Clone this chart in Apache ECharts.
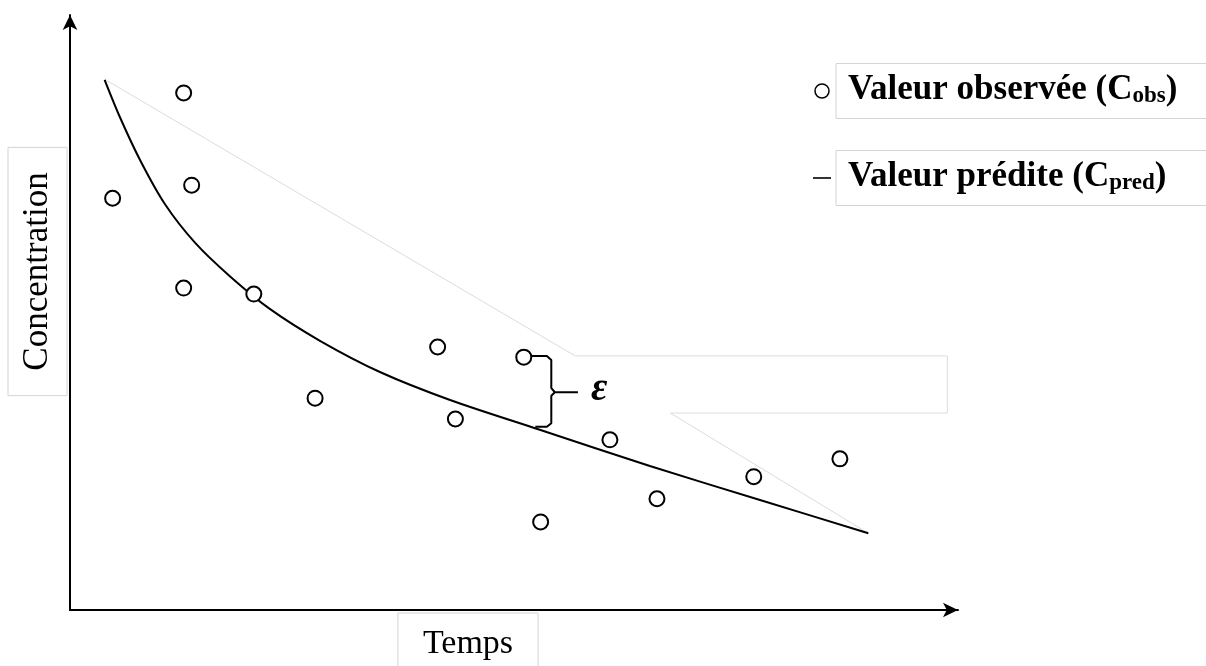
<!DOCTYPE html>
<html>
<head>
<meta charset="utf-8">
<script src="https://cdn.jsdelivr.net/npm/echarts@6/dist/echarts.min.js"></script>
<style>html,body{margin:0;padding:0;background:#fff}#c{width:1206px;height:666px}</style>
</head>
<body>
<div id="c"></div>
<script>
// Observed values (Temps, Concentration) in arbitrary units 0..10
const obsX = [1.28, 0.48, 1.37, 1.28, 2.07, 2.76, 4.14, 4.34, 5.11, 5.30, 6.08, 6.61, 7.70, 8.67];
const obsY = [8.69, 6.92, 7.14, 5.41, 5.31, 3.56, 4.42, 3.21, 4.25, 1.48, 2.86, 1.87, 2.24, 2.54];
// Predicted curve
const predX = [0.39, 0.56, 0.79, 1.07, 1.41, 1.80, 2.25, 2.82, 3.49, 4.28, 5.29, 6.53, 7.77, 8.99];
const predY = [8.91, 8.29, 7.56, 6.82, 6.17, 5.61, 5.06, 4.52, 4.00, 3.53, 3.03, 2.42, 1.85, 1.29];
// Faint guide outline
const guideX = [0.39, 5.69, 9.88, 9.88, 6.76, 8.99];
const guideY = [8.92, 4.27, 4.27, 3.31, 3.31, 1.29];
// Brace marking the residual epsilon
const braceX = [5.19, 5.37, 5.42, 5.42, 5.46, 5.42, 5.42, 5.37, 5.24, null, 5.46, 5.72];
const braceY = [4.27, 4.27, 4.20, 3.73, 3.66, 3.60, 3.14, 3.08, 3.08, null, 3.66, 3.66];
const epsPos = [5.96, 3.66];
const xTitle = 'Temps';
const yTitle = 'Concentration';
const obsName = 'Valeur observée';
const predName = 'Valeur prédite';

const zip = (a, b) => a.map((v, i) => (v === null ? ['-', '-'] : [v, b[i]]));
const serif = 'Liberation Serif';

const chart = echarts.init(document.getElementById('c'), null, {renderer: 'canvas'});
chart.setOption({
  animation: false,
  backgroundColor: '#fff',
  grid: {left: 70, right: 248, top: 15, bottom: 56, containLabel: false, outerBoundsMode: 'none'},
  xAxis: {
    type: 'value', min: 0, max: 10,
    axisLine: {show: true, lineStyle: {color: '#000', width: 2}, symbol: ['none', 'arrow'], symbolSize: [11, 15]},
    axisTick: {show: false}, axisLabel: {show: false}, splitLine: {show: false},
    name: '{b|' + xTitle + '}', nameLocation: 'middle', nameGap: 3,
    nameTextStyle: {padding: [0, 92, 0, 0],
      rich: {b: {fontFamily: serif, fontSize: 34, color: '#000', borderColor: '#d4d4d4', borderWidth: 1, padding: [14, 25, 30, 25]}}}
  },
  yAxis: {
    type: 'value', min: 0, max: 10,
    axisLine: {show: true, lineStyle: {color: '#000', width: 2}, symbol: ['none', 'arrow'], symbolSize: [11, 15]},
    axisTick: {show: false}, axisLabel: {show: false}, splitLine: {show: false},
    name: '{b|' + yTitle + '}', nameLocation: 'middle', nameGap: 3, nameRotate: 90,
    nameTextStyle: {padding: [0, 0, 0, 82],
      rich: {b: {fontFamily: serif, fontSize: 35, color: '#000', borderColor: '#d4d4d4', borderWidth: 1, padding: [12, 25, 12, 25]}}}
  },
  legend: {
    orient: 'vertical', left: 808, top: 58, itemGap: 31, itemWidth: 18, itemHeight: 14,
    selectedMode: false,
    data: [
      {name: obsName, icon: 'circle', itemStyle: {color: '#fff', borderColor: '#000', borderWidth: 1.5}},
      {name: predName, icon: 'path://M0,0 L18,0 L18,1.6 L0,1.6 Z', itemStyle: {color: '#000', borderWidth: 0}}
    ],
    formatter: function (n) {
      return n === obsName ? '{a|Valeur observée (C}{s|obs}{a|)}' : '{a|Valeur prédite (C}{s|pred}{a|)}';
    },
    textStyle: {
      color: '#000', fontFamily: serif, borderColor: '#d4d4d4', borderWidth: 1, padding: [8, 200, 11, 12],
      rich: {
        a: {fontFamily: serif, fontWeight: 'bold', fontSize: 35, color: '#000', lineHeight: 36},
        s: {fontFamily: serif, fontWeight: 'bold', fontSize: 23, color: '#000', verticalAlign: 'bottom', lineHeight: 28}
      }
    }
  },
  series: [
    {
      name: 'guide', type: 'line', silent: true, data: zip(guideX, guideY), showSymbol: false, symbol: 'none',
      lineStyle: {color: '#dcdcdc', width: 1}, z: 1
    },
    {
      name: predName, type: 'line', data: zip(predX, predY), smooth: 0.3, showSymbol: false, symbol: 'none',
      lineStyle: {color: '#000', width: 2}, itemStyle: {color: '#000'}, z: 2
    },
    {
      name: 'brace', type: 'line', silent: true, data: zip(braceX, braceY), showSymbol: false, symbol: 'none',
      connectNulls: false, lineStyle: {color: '#000', width: 2}, z: 2
    },
    {
      name: obsName, type: 'scatter', data: zip(obsX, obsY), symbol: 'circle', symbolSize: 15,
      itemStyle: {color: '#fff', borderColor: '#000', borderWidth: 2, opacity: 1}, z: 3
    },
    {
      name: 'eps', type: 'scatter', silent: true, data: [epsPos], symbolSize: 1,
      itemStyle: {color: 'rgba(0,0,0,0)'},
      label: {show: true, position: 'inside', offset: [0, -3], formatter: 'ε', fontFamily: serif, fontStyle: 'italic', fontWeight: 'bold', fontSize: 40, color: '#000', opacity: 1, textBorderWidth: 0},
      z: 4
    }
  ]
});
</script>
</body>
</html>
